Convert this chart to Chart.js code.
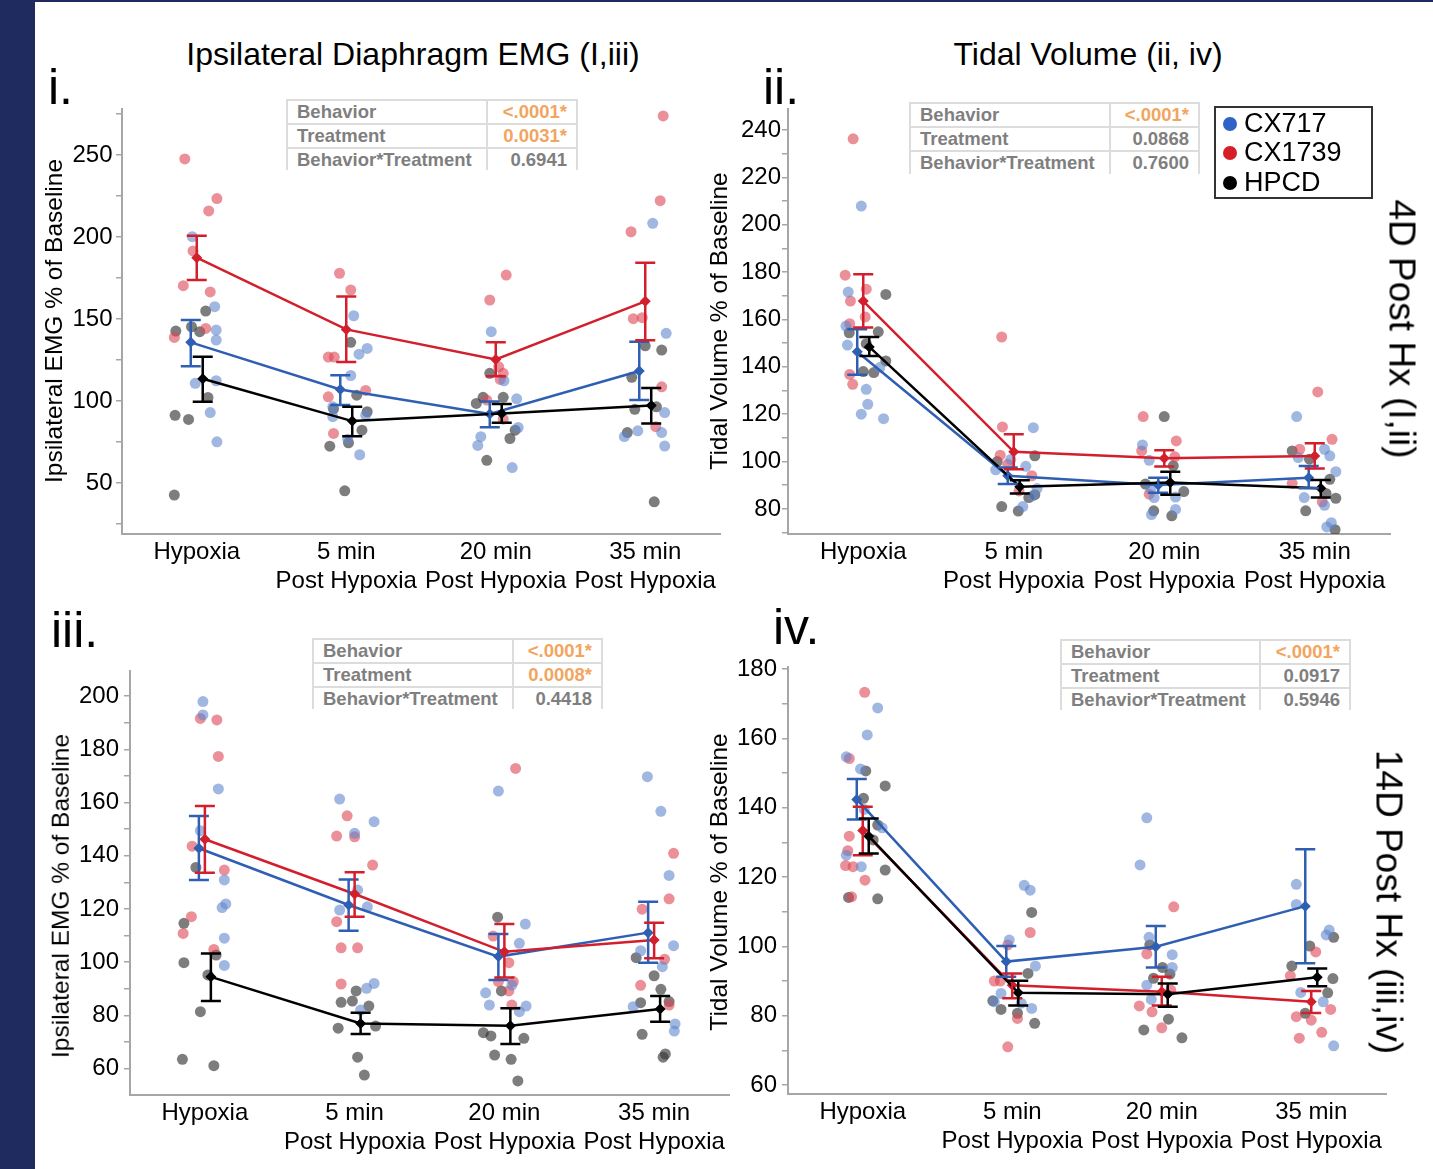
<!DOCTYPE html>
<html><head><meta charset="utf-8">
<script src="https://cdn.jsdelivr.net/npm/chart.js@4.4.1/dist/chart.umd.min.js"></script>
<style>
html,body{margin:0;padding:0;background:#fff;}
body{width:1433px;height:1169px;position:relative;overflow:hidden;font-family:"Liberation Sans",Arial,Helvetica,sans-serif;color:#000;}
.abs{position:absolute;}
.stripe{left:0;top:0;width:35px;height:1169px;background:#1f2b5e;}
.topline{left:0;top:0;width:1433px;height:2px;background:#1f2b5e;}
.ttl{font-size:32px;line-height:32px;white-space:nowrap;text-align:center;width:700px;}
.plab{font-size:50px;line-height:50px;white-space:nowrap;}
.ytitle{font-size:24.5px;line-height:24.5px;white-space:nowrap;transform:translate(-50%,-50%) rotate(-90deg);}
.side{font-size:37px;line-height:37px;white-space:nowrap;transform:translate(-50%,-50%) rotate(90deg);}
.stat{display:grid;gap:2px;padding:2px;background:#dcdcdc;box-sizing:border-box;font-weight:bold;font-size:18.5px;color:#7f7f7f;}
.stat div{background:#fff;display:flex;align-items:center;white-space:nowrap;}
.stat .lab{padding-left:9px;}
.stat .val{justify-content:flex-end;padding-right:9px;}
.stat .sig{color:#f2a55f;}
.legend{left:1214px;top:106px;width:159px;height:93px;border:2px solid #333;box-sizing:border-box;background:#fff;}
.legend .item{position:absolute;left:0;font-size:27px;line-height:27px;white-space:nowrap;}
.legend .dot{position:absolute;width:14px;height:14px;border-radius:50%;}
canvas{position:absolute;}
</style>
</head>
<body>
<div class="abs stripe"></div>
<div class="abs topline"></div>
<script>
// ---------------- DATA ----------------
const categories = [["Hypoxia"], ["5 min", "Post Hypoxia"], ["20 min", "Post Hypoxia"], ["35 min", "Post Hypoxia"]];
const seriesNames = ["CX717", "CX1739", "HPCD"];
const statLabels = ["Behavior", "Treatment", "Behavior*Treatment"];

const titleLeft = "Ipsilateral Diaphragm EMG (I,iii)";
const titleRight = "Tidal Volume (ii, iv)";
const yTitleEMG = "Ipsilateral EMG % of Baseline";
const yTitleTV = "Tidal Volume % of Baseline";
const sideTop = "4D Post Hx (I,ii)";
const sideBottom = "14D Post Hx (iii,iv)";

const stats_i = ["<.0001*", "0.0031*", "0.6941"];
const stats_ii = ["<.0001*", "0.0868", "0.7600"];
const stats_iii = ["<.0001*", "0.0008*", "0.4418"];
const stats_iv = ["<.0001*", "0.0917", "0.5946"];

const i_yLabels = [50, 100, 150, 200, 250];
const ii_yLabels = [80, 100, 120, 140, 160, 180, 200, 220, 240];
const iii_yLabels = [60, 80, 100, 120, 140, 160, 180, 200];
const iv_yLabels = [60, 80, 100, 120, 140, 160, 180];

// panel i : EMG, 4D
const i_CX717_mean = [135.8, 107.1, 92.1, 118.3];
const i_CX717_up = [149.4, 115.8, 99.7, 136.2];
const i_CX717_lo = [121.3, 97.6, 84.0, 100.6];
const i_CX717_pts = [[0,-0.03,200.2],[0,0.12,157.5],[0,0.13,143.3],[0,0.13,137.2],[0,-0.01,110.8],[0,0.13,112.4],[0,0.09,93],[0,0.135,75.2],
  [1,0.05,152],[1,0.14,132.1],[1,0.085,128.6],[1,0.03,115.6],[1,-0.09,96.5],[1,-0.09,90.5],[1,0.13,91.4],[1,0.01,76.8],[1,0.09,67.3],
  [2,-0.03,142.3],[2,0.055,112.4],[2,0.14,101.4],[2,0.15,83.9],[2,-0.1,78.3],[2,-0.12,73],[2,0.11,59.5],
  [3,0.05,208.3],[3,0.14,141.3],[3,0.13,93],[3,0.11,80.8],[3,0.13,72.6],[3,-0.05,81.9],[3,-0.14,78.4]];
const i_CX1739_mean = [187.4, 143.7, 125.4, 160.8];
const i_CX1739_up = [200.8, 163.8, 135.8, 184.3];
const i_CX1739_lo = [173.8, 123.8, 115.2, 137.0];
const i_CX1739_pts = [[0,-0.08,247.6],[0,0.135,223.4],[0,0.08,215.9],[0,-0.025,191.5],[0,-0.09,170.3],[0,0.09,166.5],[0,0.06,144.3],[0,-0.15,138.8],
  [1,-0.045,177.9],[1,0.03,167.7],[1,-0.12,126.8],[1,-0.08,126.8],[1,0.13,106.5],[1,-0.12,102.6],[1,-0.085,80.3],
  [2,0.07,176.8],[2,-0.04,161.6],[2,0.02,120.9],[2,0.05,116.9],[2,0.03,113.2],[2,-0.06,100.6],[2,0.05,89],
  [3,0.12,273.8],[3,0.1,222.1],[3,-0.095,203.2],[3,-0.08,150.2],[3,-0.02,150.8],[3,0.11,108.7],[3,0.07,84.4]];
const i_HPCD_mean = [113.6, 87.8, 92.5, 97.3];
const i_HPCD_up = [127.0, 96.5, 98.2, 107.9];
const i_HPCD_lo = [99.6, 78.6, 86.8, 86.4];
const i_HPCD_pts = [[0,0.06,154.9],[0,-0.14,142.7],[0,-0.035,145.3],[0,0.02,142.3],[0,0.075,102.2],[0,-0.145,91.3],[0,-0.055,88.8],[0,-0.15,42.7],
  [1,0.03,135.8],[1,0.07,103.6],[1,-0.085,95.3],[1,0.14,93.5],[1,0.105,82.3],[1,-0.11,72.5],[1,0.015,74.6],[1,-0.01,45.3],
  [2,-0.04,116.9],[2,-0.13,98.6],[2,-0.085,102.3],[2,0.05,102.3],[2,0.13,82.3],[2,0.095,77.2],[2,-0.06,63.9],
  [3,0,133.7],[3,0.11,131.1],[3,-0.09,114.5],[3,-0.07,95],[3,0.075,96.5],[3,-0.12,80.8],[3,0.06,38.6]];

// panel ii : Tidal volume, 4D
const ii_CX717_mean = [146.4, 94.0, 90.1, 93.2];
const ii_CX717_up = [155.9, 97.5, 93.2, 98.1];
const ii_CX717_lo = [136.7, 90.5, 86.8, 88.7];
const ii_CX717_pts = [[0,-0.013,207.9],[0,-0.1,171.6],[0,-0.115,157.2],[0,-0.105,149.2],[0,0.11,139.7],[0,0.02,130.5],[0,0.03,124.2],[0,-0.013,120],[0,0.135,118.1],
  [1,0.13,114.3],[1,-0.12,96.5],[1,0.08,98],[1,0.155,88.6],[1,0.125,85.5],[1,0.06,81],[1,-0.02,100.9],
  [2,-0.145,107],[2,-0.1,100.5],[2,-0.09,88.3],[2,-0.067,84.8],[2,0.075,85],[2,0.075,79.8],[2,-0.085,77.6],
  [3,-0.12,119],[3,0.065,105.2],[3,0.1,102.4],[3,-0.11,101.7],[3,0.14,95.7],[3,-0.07,84.8],[3,0.065,81.5],[3,0.11,74.2],[3,0.08,72.4]];
const ii_CX1739_mean = [167.8, 104.1, 101.4, 102.3];
const ii_CX1739_up = [179.1, 111.5, 104.8, 107.7];
const ii_CX1739_lo = [156.6, 96.8, 97.9, 97.1];
const ii_CX1739_pts = [[0,-0.067,236.3],[0,-0.12,178.7],[0,0.02,172.8],[0,-0.085,167.8],[0,0.013,161.1],[0,-0.09,158.2],[0,-0.09,136.8],[0,-0.07,132.6],
  [1,-0.08,152.6],[1,-0.075,114.6],[1,-0.09,102.7],[1,-0.04,98.9],[1,0.12,94],[1,0.035,87.6],
  [2,-0.14,119],[2,0.08,108.7],[2,-0.15,104.5],[2,0.07,102],[2,-0.1,86.2],
  [3,0.02,129.4],[3,0.115,109.4],[3,-0.1,105.2],[3,-0.15,90.8],[3,0.05,83]];
const ii_HPCD_mean = [148.4, 89.4, 91.1, 88.7];
const ii_HPCD_up = [152.6, 92.1, 95.7, 92.2];
const ii_HPCD_lo = [144.6, 86.5, 86.0, 84.8];
const ii_HPCD_pts = [[0,0.15,170.6],[0,-0.093,154.4],[0,0.1,154.8],[0,0.02,149.8],[0,0.15,142.5],[0,0,138],[0,0.07,137.6],
  [1,0.14,102.4],[1,-0.11,100],[1,0.1,84.8],[1,-0.08,81],[1,0.03,79.1],[1,0.14,86],
  [2,0,119],[2,0.06,98.2],[2,-0.125,90.5],[2,0.13,87.3],[2,-0.07,79.2],[2,0.05,77.1],
  [3,-0.15,104.5],[3,-0.035,101],[3,0.1,92.5],[3,0.14,84.5],[3,-0.06,79.2],[3,0.135,71.2],[3,0.075,86.5]];

// panel iii : EMG, 14D
const iii_CX717_mean = [142.8, 121.5, 102.1, 111.1];
const iii_CX717_up = [154.9, 131.1, 110.6, 122.7];
const iii_CX717_lo = [130.9, 111.8, 93.3, 99.8];
const iii_CX717_pts = [[0,-0.013,197.9],[0,-0.013,192.9],[0,0.09,165.1],[0,-0.03,149.4],[0,0.13,130.9],[0,0.14,121.9],[0,0.115,120.5],[0,0.13,109],[0,0.13,98.8],
  [1,-0.1,161.3],[1,0.13,152.8],[1,0,148.4],[1,0.02,127.1],[1,-0.1,119.6],[1,0.085,120.8],[1,0.13,92],[1,0.08,90.2],[1,0.04,82],
  [2,-0.04,164.3],[2,0.14,114.3],[2,0.1,107.1],[2,0.05,91.4],[2,-0.125,88.5],[2,-0.1,83.9],[2,0.145,83.5],[2,0.1,81.4],
  [3,-0.045,169.7],[3,0.045,156.7],[3,0.1,132.6],[3,0.13,106.2],[3,-0.09,104.3],[3,0.055,98.3],[3,-0.14,83.3],[3,0.14,76.8],[3,0.135,74.1]];
const iii_CX1739_mean = [146.2, 125.6, 103.9, 108.3];
const iii_CX1739_up = [158.7, 133.8, 114.3, 114.8];
const iii_CX1739_lo = [133.6, 117.1, 94.2, 101.5];
const iii_CX1739_pts = [[0,-0.03,191.6],[0,0.08,191],[0,0.09,177.3],[0,-0.085,143.6],[0,0.13,134.6],[0,-0.09,117.1],[0,-0.145,110.8],[0,0.06,104.8],
  [1,-0.05,155],[1,-0.12,147.4],[1,0,147.1],[1,0.12,136.5],[1,-0.12,115.2],[1,-0.09,105.4],[1,0.02,105.4],[1,-0.09,91.8],
  [2,0.075,172.8],[2,-0.075,109.8],[2,0.03,99.8],[2,0.06,92.7],[2,-0.04,92.7],[2,0.03,89.2],[2,0.05,83.9],
  [3,0.13,140.9],[3,0.1,123.8],[3,-0.08,119.9],[3,0.07,101.1],[3,-0.09,91.3],[3,0.1,83.9]];
const iii_HPCD_mean = [94.5, 77.0, 76.1, 82.4];
const iii_HPCD_up = [103.3, 81.0, 82.7, 87.3];
const iii_HPCD_lo = [85.4, 73.0, 69.3, 77.6];
const iii_HPCD_pts = [[0,-0.06,135.6],[0,-0.14,114.6],[0,0.075,102.7],[0,-0.14,99.8],[0,0.02,95.2],[0,-0.03,81.4],[0,-0.15,63.5],[0,0.06,61.1],
  [1,0.01,89.2],[1,-0.09,84.9],[1,-0.015,85.4],[1,0.095,83.5],[1,-0.11,75.2],[1,0.14,76],[1,0.02,64.3],[1,0.065,57.6],
  [2,-0.045,116.9],[2,-0.02,89.2],[2,-0.14,73.5],[2,-0.09,72.3],[2,0.13,71.4],[2,-0.065,65.1],[2,0.045,63.5],[2,0.09,55.4],
  [3,-0.12,101.7],[3,0,94.9],[3,0.045,89.8],[3,-0.09,84.8],[3,0.1,85.2],[3,-0.08,72.9],[3,0.075,65.5],[3,0.06,64.3]];

// panel iv : Tidal volume, 14D
const iv_CX717_mean = [142.4, 95.6, 99.9, 111.6];
const iv_CX717_up = [148.3, 100.1, 105.9, 128.0];
const iv_CX717_lo = [136.6, 91.2, 93.9, 95.1];
const iv_CX717_pts = [[0,0.1,168.8],[0,0.03,161],[0,-0.11,154.7],[0,-0.015,151.2],[0,0.01,139.5],[0,0.13,134.2],[0,-0.11,126.3],[0,-0.01,123],
  [1,0.08,117.6],[1,0.12,116.2],[1,-0.02,101.8],[1,0.155,94.3],[1,-0.075,86.4],[1,-0.12,84],[1,0.13,82.1],[1,0.06,83.6],
  [2,-0.1,137.1],[2,-0.145,123.5],[2,-0.085,102.6],[2,0.07,97.6],[2,0.07,93.9],[2,-0.1,88.8],[2,-0.07,84.7],
  [3,-0.1,117.9],[3,-0.1,112.1],[3,0.12,104.7],[3,0.1,103.3],[3,-0.07,86.7],[3,0.08,84],[3,0.15,71.3]];
const iv_CX1739_mean = [133.4, 88.8, 86.9, 84.0];
const iv_CX1739_up = [140.3, 92.2, 91.2, 87.1];
const iv_CX1739_lo = [126.3, 85.0, 82.9, 80.8];
const iv_CX1739_pts = [[0,0.013,173.3],[0,-0.09,154.2],[0,-0.09,131.8],[0,-0.1,127.6],[0,-0.115,123.3],[0,-0.065,123],[0,0.015,119.1],[0,-0.075,114.3],
  [1,0.12,104],[1,-0.03,100.4],[1,-0.08,90],[1,-0.12,90],[1,0.035,79.2],[1,-0.03,71],
  [2,0.08,111.4],[2,-0.1,97.8],[2,-0.15,82.8],[2,-0.065,81.1],[2,0,76.5],[2,0.06,87.4],
  [3,0.03,98.4],[3,-0.14,91.5],[3,0.13,81.8],[3,-0.1,79.7],[3,0,78.7],[3,0.07,75.2],[3,-0.08,73.5]];
const iv_HPCD_mean = [131.8, 86.6, 86.2, 91.1];
const iv_HPCD_up = [136.9, 90.1, 89.3, 93.6];
const iv_HPCD_lo = [126.8, 82.9, 82.6, 88.5];
const iv_HPCD_pts = [[0,0.02,150.6],[0,0.15,146.3],[0,0.005,142.7],[0,0.1,135],[0,0.07,130.7],[0,0.15,122],[0,-0.095,114.1],[0,0.1,113.7],
  [1,0.13,109.8],[1,0.105,92.2],[1,-0.13,84.3],[1,-0.075,81.8],[1,0.035,80.7],[1,0.15,77.8],
  [2,-0.08,100.4],[2,0.005,93.9],[2,0.055,92],[2,-0.055,90.8],[2,0.045,79],[2,-0.12,75.9],[2,0.135,73.6],
  [3,0.15,102.6],[3,-0.01,100.1],[3,-0.13,94.3],[3,0.145,90.7],[3,0.11,86.6],[3,-0.04,80.7]];

// ---------------- STYLE / LAYOUT ----------------
const FONT = '"Liberation Sans", Arial, Helvetica, sans-serif';
const lineColors = ['#2f5fb3', '#d21f2b', '#000000'];
const ptColors = ['rgba(95,135,205,0.6)', 'rgba(222,70,85,0.6)', 'rgba(55,55,55,0.65)'];
const legendColors = ['#2e62c6', '#d61e28', '#000000'];
const dodge = [-0.04, 0, 0.04];

const panels = [
  {l:122, t:109, r:720, b:534, min:19, max:278, step:25, W:85, pad:3.5, labels:i_yLabels,
   mean:[i_CX717_mean,i_CX1739_mean,i_HPCD_mean], up:[i_CX717_up,i_CX1739_up,i_HPCD_up], lo:[i_CX717_lo,i_CX1739_lo,i_HPCD_lo], pts:[i_CX717_pts,i_CX1739_pts,i_HPCD_pts]},
  {l:788, t:109, r:1390, b:534, min:69.4, max:248.9, step:10, W:85, pad:1, labels:ii_yLabels,
   mean:[ii_CX717_mean,ii_CX1739_mean,ii_HPCD_mean], up:[ii_CX717_up,ii_CX1739_up,ii_HPCD_up], lo:[ii_CX717_lo,ii_CX1739_lo,ii_HPCD_lo], pts:[ii_CX717_pts,ii_CX1739_pts,ii_HPCD_pts]},
  {l:130, t:671, r:729, b:1095, min:50.1, max:209.4, step:10, W:90, pad:5, labels:iii_yLabels,
   mean:[iii_CX717_mean,iii_CX1739_mean,iii_HPCD_mean], up:[iii_CX717_up,iii_CX1739_up,iii_HPCD_up], lo:[iii_CX717_lo,iii_CX1739_lo,iii_HPCD_lo], pts:[iii_CX717_pts,iii_CX1739_pts,iii_HPCD_pts]},
  {l:788, t:667, r:1386, b:1094, min:57.4, max:180.6, step:10, W:85, pad:5, labels:iv_yLabels,
   mean:[iv_CX717_mean,iv_CX1739_mean,iv_HPCD_mean], up:[iv_CX717_up,iv_CX1739_up,iv_HPCD_up], lo:[iv_CX717_lo,iv_CX1739_lo,iv_HPCD_lo], pts:[iv_CX717_pts,iv_CX1739_pts,iv_HPCD_pts]}
];

const errorBarPlugin = {
  id: 'errbars',
  afterDatasetsDraw(chart) {
    const ctx = chart.ctx, ys = chart.scales.y;
    chart.data.datasets.forEach((ds, di) => {
      if (!ds.errUp) return;
      const meta = chart.getDatasetMeta(di);
      ctx.save();
      ctx.strokeStyle = ds.borderColor; ctx.lineWidth = 2.5;
      meta.data.forEach((el, i) => {
        const x = el.x, yt = ys.getPixelForValue(ds.errUp[i]), yb = ys.getPixelForValue(ds.errLo[i]);
        ctx.beginPath();
        ctx.moveTo(x, yt); ctx.lineTo(x, yb);
        ctx.moveTo(x - 10, yt); ctx.lineTo(x + 10, yt);
        ctx.moveTo(x - 10, yb); ctx.lineTo(x + 10, yb);
        ctx.stroke();
      });
      ctx.restore();
    });
  }
};

const PADT = 20, PADR = 12, XH = 64;
panels.forEach(p => {
  const cv = document.createElement('canvas');
  const left = p.l - p.W, top = p.t - PADT;
  const w = p.r + PADR - left, h = p.b + XH - top;
  cv.width = w; cv.height = h;
  cv.style.left = left + 'px'; cv.style.top = top + 'px';
  cv.style.width = w + 'px'; cv.style.height = h + 'px';
  document.body.appendChild(cv);
  const datasets = [];
  seriesNames.forEach((name, s) => {
    datasets.push({
      label: name + ' points',
      data: p.pts[s].map(q => ({x: q[0] + q[1], y: q[2]})),
      backgroundColor: ptColors[s], borderWidth: 0, pointRadius: 5.5, showLine: false, order: 10
    });
  });
  seriesNames.forEach((name, s) => {
    datasets.push({
      label: name,
      data: p.mean[s].map((v, i) => ({x: i + dodge[s], y: v})),
      errUp: p.up[s], errLo: p.lo[s],
      borderColor: lineColors[s], backgroundColor: lineColors[s], borderWidth: 2.5,
      showLine: true, tension: 0, pointStyle: 'rectRot', pointRadius: 5.5, pointBorderWidth: 0,
      order: 3 - s
    });
  });
  new Chart(cv, {
    type: 'scatter',
    data: {datasets},
    options: {
      responsive: false, animation: false, devicePixelRatio: 1, events: [],
      layout: {padding: {top: PADT, right: PADR, left: 0, bottom: 0}},
      plugins: {legend: {display: false}, tooltip: {enabled: false}},
      scales: {
        x: {
          type: 'linear', min: -0.5, max: 3.5,
          afterBuildTicks: sc => { sc.ticks = categories.map((c, i) => ({value: i})); },
          afterFit: sc => { sc.height = XH; },
          ticks: {callback: v => categories[v], font: {size: 24, family: FONT}, color: '#000', padding: 4, maxRotation: 0, autoSkip: false},
          grid: {display: false, drawTicks: false},
          border: {display: true, color: '#a6a6a6', width: 2}
        },
        y: {
          type: 'linear', min: p.min, max: p.max,
          afterBuildTicks: sc => {
            const t = [];
            for (let v = Math.ceil(p.min / p.step) * p.step; v <= p.max + 1e-9; v += p.step) t.push({value: Math.round(v * 1000) / 1000});
            sc.ticks = t;
          },
          afterFit: sc => { sc.width = p.W; },
          ticks: {callback: v => p.labels.includes(v) ? String(v) : '', font: {size: 24, family: FONT}, color: '#000', padding: p.pad, autoSkip: false},
          grid: {display: true, drawOnChartArea: false, drawTicks: true, tickLength: 6, color: '#a6a6a6', lineWidth: 1.5},
          border: {display: true, color: '#a6a6a6', width: 2}
        }
      }
    },
    plugins: [errorBarPlugin]
  });
});

// ---------------- TEXT OVERLAYS ----------------
function addDiv(cls, text, styles) {
  const d = document.createElement('div');
  d.className = 'abs ' + cls;
  d.textContent = text;
  Object.assign(d.style, styles);
  document.body.appendChild(d);
  return d;
}
addDiv('ttl', titleLeft, {left: '63px', top: '38px'});
addDiv('ttl', titleRight, {left: '738px', top: '38px'});
addDiv('plab', 'i.', {left: '48px', top: '62px'});
addDiv('plab', 'ii.', {left: '763px', top: '62px'});
addDiv('plab', 'iii.', {left: '51px', top: '605px'});
addDiv('plab', 'iv.', {left: '773px', top: '602px'});
addDiv('ytitle', yTitleEMG, {left: '54px', top: '321px'});
addDiv('ytitle', yTitleTV, {left: '719px', top: '321px'});
addDiv('ytitle', yTitleEMG, {left: '61px', top: '896px'});
addDiv('ytitle', yTitleTV, {left: '719px', top: '882px'});
addDiv('side', sideTop, {left: '1402px', top: '329px'});
addDiv('side', sideBottom, {left: '1389px', top: '902px'});

function addStat(vals, left, top, w, h, col1) {
  const g = document.createElement('div');
  g.className = 'abs stat';
  Object.assign(g.style, {left: left + 'px', top: top + 'px', width: w + 'px', height: h + 'px',
    gridTemplateColumns: col1 + 'px 1fr', gridTemplateRows: 'repeat(3, 1fr)'});
  statLabels.forEach((lab, i) => {
    const a = document.createElement('div'); a.className = 'lab'; a.textContent = lab; g.appendChild(a);
    const b = document.createElement('div'); b.className = 'val' + (vals[i].endsWith('*') ? ' sig' : ''); b.textContent = vals[i]; g.appendChild(b);
  });
  document.body.appendChild(g);
}
addStat(stats_i, 286, 99, 292, 71, 198);
addStat(stats_ii, 909, 102, 291, 72, 198);
addStat(stats_iii, 312, 638, 291, 71, 198);
addStat(stats_iv, 1060, 639, 291, 71, 197);

const lg = document.createElement('div');
lg.className = 'abs legend';
seriesNames.forEach((n, i) => {
  const cy = [16, 45, 75][i];
  const dot = document.createElement('div'); dot.className = 'dot';
  Object.assign(dot.style, {left: '7px', top: (cy - 7) + 'px', background: legendColors[i]});
  lg.appendChild(dot);
  const it = document.createElement('div'); it.className = 'item'; it.textContent = n;
  Object.assign(it.style, {left: '28px', top: (cy - 14) + 'px'});
  lg.appendChild(it);
});
document.body.appendChild(lg);
</script>
</body></html>
